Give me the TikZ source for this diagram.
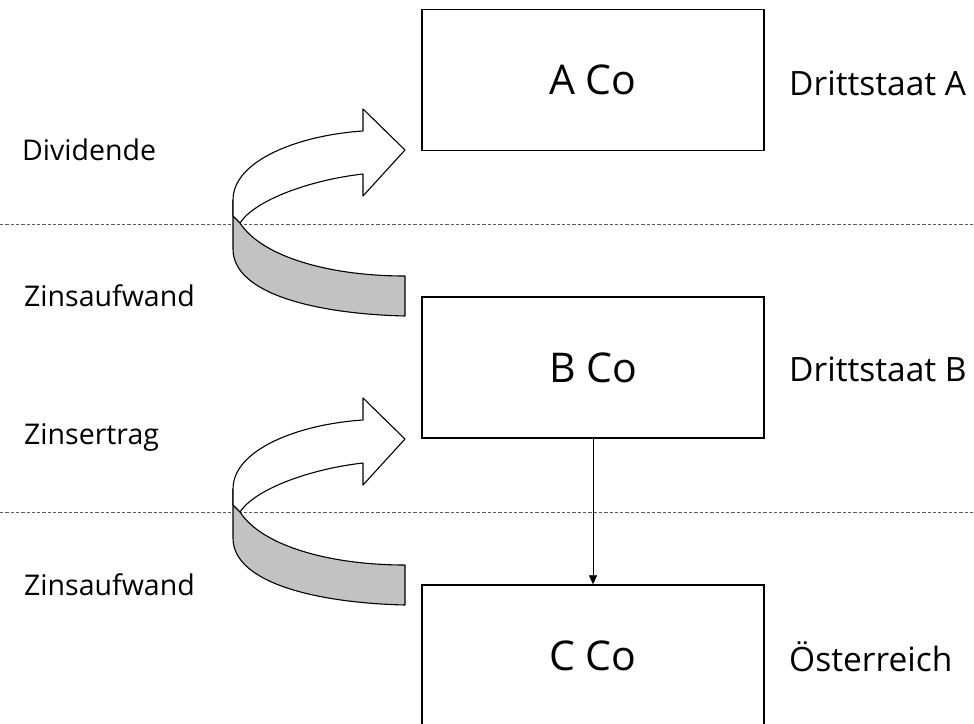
\documentclass[tikz,border=0pt]{standalone}
\usepackage{fontspec}
\setmainfont{Open Sans}
\usetikzlibrary{arrows.meta}
\definecolor{bandgrey}{RGB}{194,194,194}
\definecolor{sepgrey}{RGB}{90,90,90}
\begin{document}
\begin{tikzpicture}[x=1pt,y=-1pt,
  box/.style={draw, line width=1.4pt, minimum width=342pt, minimum height=141pt, inner sep=0pt, font=\fontsize{41}{49}\selectfont},
  statelabel/.style={anchor=west, inner sep=0pt, font=\fontsize{33.5}{40}\selectfont},
  flowlabel/.style={anchor=west, inner sep=0pt, font=\fontsize{28.5}{34}\selectfont},
  sep/.style={draw=sepgrey, line width=0.9pt, dash pattern=on 3.3pt off 2pt},
  bandfill/.style={fill=bandgrey},
  bandline/.style={draw, line width=1.1pt, line join=round},
  link/.style={draw, line width=0.7pt, -{Triangle[length=9pt,width=8pt]}}
]
\useasboundingbox (0,0) rectangle (974,723);
\clip (0,0) rectangle (974,723);
\fill[white] (0,0) rectangle (974,723);

% separators
\coordinate (s1l) at (0,224);
\coordinate (s1r) at (974,224);
\coordinate (s2l) at (0,512);
\coordinate (s2r) at (974,512);
\draw[sep] (s1l) -- (s1r);
\draw[sep] (s2l) -- (s2r);

% boxes
\node[box] (A) at (593,80) {A Co};
\node[box] (B) at (593,367.5) {B Co};
\node[box] (C) at (593,655.5) {C Co};
\draw[link] (B.south) -- (C.north);

% state labels
\node[statelabel] (lA) at (789,83) {Drittstaat A};
\node[statelabel] (lB) at (789,369) {Drittstaat B};
\node[statelabel] (lC) at (789,657) {Österreich};

% flow labels
\node[flowlabel] (f1) at (22,150) {Dividende};
\node[flowlabel] (f2) at (24,296) {Zinsaufwand};
\node[flowlabel] (f3) at (24,437) {Zinsertrag};
\node[flowlabel] (f4) at (24,585) {Zinsaufwand};

% curved arrows
\foreach \dy in {0,289}{
\begin{scope}[shift={(0,\dy)}]
  \path[bandfill] (240,223) .. controls (262,257) and (330,276) .. (405,276)
     -- (405,316) .. controls (320,314) and (233,295) .. (233,249) -- (233,216) -- cycle;
  \path[bandline] (240,223) .. controls (262,257) and (330,276) .. (405,276)
     -- (405,316) .. controls (320,314) and (233,295) .. (233,249) -- (233,200);
  \path[bandline, fill=white] (233,216) -- (233,200) .. controls (233,160) and (300,135) .. (363,131)
     -- (363,109) -- (405,150) -- (363,196) -- (363,174)
     .. controls (310,180) and (255,200) .. (240,223) -- cycle;
\end{scope}
}
\end{tikzpicture}
\end{document}
